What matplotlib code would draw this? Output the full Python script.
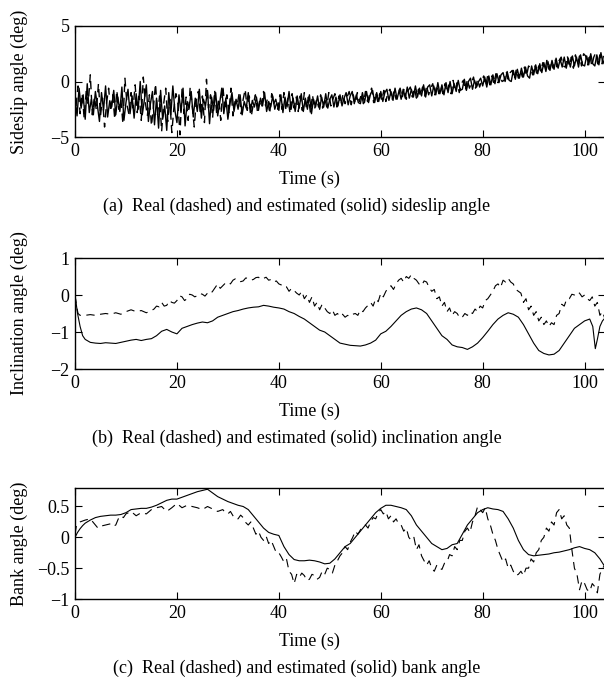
import numpy as np
import matplotlib
matplotlib.use("Agg")
import matplotlib.pyplot as plt

plt.rcParams['font.family'] = ['Liberation Serif', 'DejaVu Serif']
plt.rcParams['lines.scale_dashes'] = False

# ---- sideslip angle (deg), sampled every 0.4 s ----
sideslip_est = [
    -1.5, -3.1, -0.6, -2.4, -1.2, -3.4, -0.2, -2.8, -1.6, -3.0,
    -0.9, -2.2, -3.6, -1.0, -2.6, -0.4, -3.2, -1.8, -2.3, -0.8,
    -3.0, -1.4, -2.7, -0.5, -3.5, -1.9, -0.7, -2.9, -1.3, -3.3,
    -1.1, -2.5, 0.0, -3.0, -1.7, -0.3, -3.6, -2.0, -0.9, -3.9,
    -1.5, -4.2, -0.8, -3.4, -2.2, -4.4, -1.0, -3.0, -0.4, -2.6,
    -3.7, -1.2, -2.8, -0.6, -4.0, -1.8, -2.4, -0.9, -3.2, -1.5,
    -2.7, -0.7, -3.3, -1.6, -2.2, -0.8, -3.8, -1.4, -2.6, -1.0,
    -3.1, -1.9, -0.6, -2.9, -1.5, -3.4, -2.0, -1.0, -2.7, -1.6,
    -2.5, -1.2, -3.0, -1.8, -2.4, -1.0, -2.8, -1.7, -2.3, -1.4,
    -2.6, -1.5, -2.2, -1.0, -2.7, -1.8, -2.3, -1.3, -2.5, -1.9,
    -2.6, -1.2, -2.8, -1.4, -2.3, -0.9, -2.5, -1.5, -2.7, -1.3,
    -2.4, -1.1, -2.7, -1.5, -2.5, -1.2, -2.9, -1.6, -2.3, -1.3,
    -2.5, -1.4, -2.3, -1.1, -2.4, -1.6, -1.2, -2.3, -1.4, -2.2,
    -1.2, -2.2, -1.5, -1.0, -2.1, -1.3, -0.9, -2.0, -1.2, -1.9,
    -2.0, -1.0, -1.9, -0.9, -1.9, -1.1, -0.8, -1.9, -1.0, -1.8,
    -0.9, -1.8, -1.0, -0.7, -1.7, -0.9, -1.7, -0.6, -1.6, -0.8,
    -1.6, -0.7, -1.5, -0.5, -1.5, -0.7, -1.4, -0.4, -1.4, -0.6,
    -1.3, -0.3, -1.4, -0.5, -0.3, -1.3, -0.4, -1.2, -0.1, -1.1,
    -0.3, -1.2, -0.1, -1.0, 0.0, -1.1, -0.2, -0.9, 0.1, -0.8,
    -0.7, 0.2, -0.8, 0.0, 0.3, -0.7, 0.1, -0.5, 0.0, 0.3,
    -0.4, 0.4, -0.5, 0.5, -0.3, 0.6, -0.2, 0.7, -0.1, 0.6,
    0.8, 0.0, 0.9, 0.1, 0.0, 1.0, 0.2, 1.1, 0.3, 1.2,
    0.4, 1.3, 0.5, 0.3, 1.4, 0.6, 1.5, 0.7, 1.6, 0.8,
    1.7, 0.9, 1.8, 1.0, 1.9, 1.1, 2.1, 1.2, 2.0, 1.3,
    2.2, 1.2, 2.1, 1.3, 2.3, 1.4, 2.2, 1.3, 2.4, 1.5,
    1.4, 2.3, 1.5, 2.5, 1.6, 1.4, 2.4, 1.5, 2.6, 1.6,
    2.1,
]
sideslip_real = [
    -2.2, -0.4, -2.9, -1.1, -3.3, -0.9, -2.0, 0.6, -3.0, -1.4,
    -2.6, -0.2, -3.1, -1.5, -4.1, -1.9, -0.6, -2.7, -1.2, -3.4,
    -0.8, -2.5, -1.6, -3.8, 0.3, -2.1, -3.0, -1.0, -2.4, -0.3,
    -2.8, -1.3, -3.5, 0.4, -1.9, -3.1, -1.2, -4.0, -2.3, -0.2,
    -3.0, -1.3, -4.5, -2.0, -0.6, -3.6, -1.6, -4.6, -2.4, -1.1,
    -2.0, -4.8, -0.7, -2.9, -1.4, -3.5, -0.5, -2.2, -4.1, -1.7,
    -0.9, -3.0, -1.3, -3.7, 0.2, -2.4, -1.2, -3.3, -0.8, -2.9,
    -1.5, -3.5, -0.4, -2.3, -1.2, -2.8, -0.6, -3.1, -1.8, -2.2,
    -1.1, -2.9, -1.6, -0.7, -2.6, -1.3, -3.1, -2.0, -1.2, -2.7,
    -1.8, -2.4, -0.9, -2.2, -1.5, -2.9, -1.1, -2.0, -1.6, -2.5,
    -1.2, -2.5, -1.0, -2.6, -1.5, -2.9, -1.1, -2.4, -1.4, -2.7,
    -1.3, -2.6, -1.0, -2.4, -1.4, -2.8, -1.2, -2.5, -1.6, -2.3,
    -1.2, -2.4, -1.5, -2.3, -1.0, -2.2, -1.6, -1.1, -2.3, -1.3,
    -2.1, -1.1, -2.0, -1.4, -0.9, -2.1, -1.2, -2.0, -1.0, -1.8,
    -1.1, -2.0, -0.9, -1.8, -1.2, -0.6, -1.9, -1.0, -1.8, -1.1,
    -1.7, -0.8, -1.8, -1.0, -0.7, -1.7, -0.8, -1.6, -1.0, -0.6,
    -1.5, -0.6, -1.6, -0.8, -0.5, -1.4, -0.6, -1.5, -0.7, -1.3,
    -0.5, -1.3, -0.4, -1.2, -0.6, -0.2, -1.2, -0.3, -1.1, -0.5,
    -1.1, -0.2, -1.0, -0.3, -1.1, 0.1, -0.9, -0.1, -1.0, -0.2,
    0.1, -0.8, 0.2, -0.6, -0.1, 0.4, -0.6, 0.2, -0.5, 0.1,
    0.5, -0.4, 0.6, -0.3, 0.5, -0.2, 0.7, -0.1, 0.6, 0.0,
    0.1, 0.9, 0.2, 0.8, 1.0, 0.2, 1.1, 0.3, 1.0, 0.4,
    1.3, 0.5, 1.4, 1.2, 0.6, 1.5, 0.7, 1.4, 0.9, 1.7,
    1.0, 1.9, 1.1, 1.8, 1.2, 2.0, 1.3, 1.9, 2.2, 1.4,
    1.3, 2.3, 1.4, 2.2, 1.2, 2.4, 1.5, 2.3, 1.4, 2.5,
    2.3, 1.5, 2.5, 1.4, 2.2, 2.6, 1.5, 2.4, 1.6, 2.6,
    1.9,
]
# real samples sit half a step after the estimated ones
t_sideslip_est = np.linspace(0, 104, len(sideslip_est))
t_sideslip_real = np.linspace(0.2, 104.2, len(sideslip_real))

# ---- inclination angle (deg): (time s, value) ----
incl_est = [
    (0, 0.0), (0.5, -0.5), (1, -0.85), (1.5, -1.1), (2, -1.2), (3, -1.28),
    (4, -1.3), (5, -1.31), (6, -1.29), (7, -1.3), (8, -1.31), (9, -1.28),
    (10, -1.25), (11, -1.22), (12, -1.2), (13, -1.23), (14, -1.2), (15, -1.18),
    (16, -1.1), (17, -0.98), (18, -0.93), (19, -1.0), (20, -1.05), (21, -0.9),
    (22, -0.85), (23, -0.8), (24, -0.76), (25, -0.73), (26, -0.75), (27, -0.7),
    (28, -0.6), (29, -0.55), (30, -0.5), (31, -0.45), (32, -0.42), (33, -0.38),
    (34, -0.35), (35, -0.33), (36, -0.32), (37, -0.28), (38, -0.3), (39, -0.33),
    (40, -0.35), (41, -0.38), (42, -0.45), (43, -0.5), (44, -0.58), (45, -0.65),
    (46, -0.75), (47, -0.85), (48, -0.95), (49, -1.0), (50, -1.1), (51, -1.2),
    (52, -1.3), (53, -1.33), (54, -1.36), (55, -1.37), (56, -1.38), (57, -1.35),
    (58, -1.3), (59, -1.22), (60, -1.05), (61, -0.98), (62, -0.85), (63, -0.7),
    (64, -0.55), (65, -0.45), (66, -0.38), (67, -0.35), (68, -0.4), (69, -0.5),
    (70, -0.7), (71, -0.9), (72, -1.1), (73, -1.2), (74, -1.35), (75, -1.4),
    (76, -1.42), (77, -1.47), (78, -1.4), (79, -1.3), (80, -1.15), (81, -0.98),
    (82, -0.8), (83, -0.65), (84, -0.55), (85, -0.48), (86, -0.52), (87, -0.6),
    (88, -0.8), (89, -1.05), (90, -1.3), (91, -1.5), (92, -1.58), (93, -1.62),
    (94, -1.6), (95, -1.5), (96, -1.3), (97, -1.1), (98, -0.9), (99, -0.8),
    (100, -0.7), (101, -0.65), (101.6, -0.85), (102.1, -1.45), (102.5, -1.2),
    (103, -0.85), (103.5, -0.7), (104, -0.62),
]
incl_real = [
    (0, 0.0), (0.3, -0.3), (0.6, -0.5), (1, -0.55), (2, -0.55), (3, -0.53),
    (4, -0.55), (5, -0.52), (6, -0.5), (7, -0.52), (8, -0.48), (9, -0.52),
    (10, -0.45), (11, -0.4), (12, -0.45), (13, -0.42), (14, -0.48), (15, -0.42),
    (15.5, -0.38), (16, -0.3), (16.5, -0.32), (17, -0.2), (17.5, -0.3),
    (18, -0.28), (18.5, -0.15), (19, -0.2), (19.5, -0.22), (20, -0.15),
    (20.5, -0.02), (21, -0.05), (21.5, -0.15), (22, -0.1), (22.5, 0.02),
    (23, 0.0), (23.5, -0.05), (24, -0.02), (24.5, 0.04), (25, 0.02),
    (25.5, -0.03), (26, 0.05), (26.5, 0.02), (27, 0.1), (27.5, 0.2), (28, 0.3),
    (28.5, 0.18), (29, 0.25), (29.5, 0.32), (30, 0.35), (30.5, 0.3), (31, 0.4),
    (31.5, 0.44), (32, 0.42), (32.5, 0.36), (33, 0.38), (33.5, 0.46),
    (34, 0.45), (34.5, 0.4), (35, 0.42), (35.5, 0.47), (36, 0.48), (36.5, 0.42),
    (37, 0.45), (37.5, 0.48), (38, 0.4), (38.5, 0.42), (39, 0.35), (39.5, 0.38),
    (40, 0.3), (40.5, 0.27), (41, 0.2), (41.5, 0.22), (42, 0.1), (42.5, 0.18),
    (43, 0.12), (43.5, 0.05), (44, 0.0), (44.5, 0.1), (45, -0.1), (45.5, 0.0),
    (46, -0.2), (46.5, -0.05), (47, -0.3), (47.5, -0.2), (48, -0.4),
    (48.5, -0.25), (49, -0.35), (49.5, -0.45), (50, -0.5), (50.5, -0.4),
    (51, -0.55), (51.5, -0.5), (52, -0.58), (52.5, -0.52), (53, -0.6),
    (53.5, -0.55), (54, -0.58), (54.5, -0.52), (55, -0.5), (55.5, -0.55),
    (56, -0.4), (56.5, -0.45), (57, -0.35), (57.5, -0.28), (58, -0.2),
    (58.5, -0.3), (59, -0.1), (59.5, -0.18), (60, 0.05), (60.5, -0.05),
    (61, 0.1), (61.5, 0.2), (62, 0.25), (62.5, 0.15), (63, 0.3), (63.5, 0.4),
    (64, 0.45), (64.5, 0.35), (65, 0.5), (65.5, 0.45), (66, 0.55), (66.5, 0.45),
    (67, 0.4), (67.5, 0.3), (68, 0.25), (68.5, 0.38), (69, 0.35), (69.5, 0.2),
    (70, 0.1), (70.5, 0.15), (71, -0.1), (71.5, -0.05), (72, -0.3),
    (72.5, -0.2), (73, -0.45), (73.5, -0.35), (74, -0.55), (74.5, -0.45),
    (75, -0.5), (75.5, -0.62), (76, -0.6), (76.5, -0.5), (77, -0.55),
    (77.5, -0.45), (78, -0.5), (78.5, -0.38), (79, -0.45), (79.5, -0.3),
    (80, -0.35), (80.5, -0.15), (81, -0.1), (81.5, 0.0), (82, 0.1),
    (82.5, 0.25), (83, 0.3), (83.5, 0.2), (84, 0.4), (84.5, 0.35), (85, 0.45),
    (85.5, 0.35), (86, 0.3), (86.5, 0.15), (87, 0.1), (87.5, 0.05), (88, -0.2),
    (88.5, -0.1), (89, -0.4), (89.5, -0.3), (90, -0.55), (90.5, -0.45),
    (91, -0.7), (91.5, -0.6), (92, -0.8), (92.5, -0.7), (93, -0.85),
    (93.5, -0.75), (94, -0.8), (94.5, -0.55), (95, -0.5), (95.5, -0.25),
    (96, -0.3), (96.5, -0.1), (97, -0.1), (97.5, 0.02), (98, 0.0), (98.5, 0.08),
    (99, 0.05), (99.5, -0.05), (100, 0.0), (100.5, -0.1), (101, -0.15),
    (101.5, -0.05), (102, -0.3), (102.5, -0.2), (103, -0.55), (103.5, -0.45),
    (104, -0.65),
]

# ---- bank angle (deg): (time s, value) ----
bank_est = [
    (0, 0.0), (0.5, 0.08), (1, 0.14), (1.5, 0.19), (2, 0.23), (3, 0.28),
    (4, 0.32), (5, 0.34), (6, 0.35), (7, 0.36), (8, 0.36), (9, 0.37),
    (10, 0.4), (11, 0.45), (12, 0.46), (13, 0.47), (14, 0.47), (15, 0.49),
    (16, 0.52), (17, 0.56), (18, 0.6), (19, 0.62), (20, 0.62), (21, 0.65),
    (22, 0.68), (23, 0.71), (24, 0.74), (25, 0.76), (26, 0.78), (27, 0.72),
    (28, 0.66), (29, 0.62), (30, 0.58), (31, 0.55), (32, 0.52), (33, 0.5),
    (34, 0.45), (35, 0.35), (36, 0.25), (37, 0.15), (38, 0.08), (39, 0.05),
    (40, 0.03), (41, -0.15), (42, -0.28), (43, -0.36), (44, -0.38), (45, -0.38),
    (46, -0.37), (47, -0.38), (48, -0.4), (49, -0.43), (50, -0.42), (51, -0.35),
    (52, -0.25), (53, -0.15), (54, -0.1), (55, 0.0), (56, 0.1), (57, 0.2),
    (58, 0.3), (59, 0.4), (60, 0.47), (61, 0.52), (62, 0.52), (63, 0.5),
    (64, 0.48), (65, 0.45), (66, 0.35), (67, 0.2), (68, 0.1), (69, 0.0),
    (70, -0.1), (71, -0.15), (72, -0.2), (73, -0.18), (74, -0.12), (75, -0.1),
    (76, 0.05), (77, 0.2), (78, 0.3), (79, 0.4), (80, 0.45), (81, 0.48),
    (82, 0.46), (83, 0.45), (84, 0.42), (85, 0.3), (86, 0.15), (87, -0.05),
    (88, -0.2), (89, -0.28), (90, -0.3), (91, -0.29), (92, -0.28), (93, -0.27),
    (94, -0.25), (95, -0.24), (96, -0.22), (97, -0.2), (98, -0.17), (99, -0.15),
    (100, -0.18), (101, -0.2), (102, -0.25), (103, -0.35), (104, -0.48),
]
bank_real = [
    (0, 0.05), (0.3, 0.2), (1, 0.25), (2, 0.28), (3, 0.3), (4, 0.2),
    (4.5, 0.15), (5, 0.18), (6, 0.2), (7, 0.22), (7.5, 0.18), (8, 0.2),
    (8.5, 0.3), (9, 0.35), (9.5, 0.32), (10, 0.38), (11, 0.42), (12, 0.35),
    (13, 0.4), (14, 0.38), (15, 0.45), (16, 0.48), (17, 0.5), (18, 0.42),
    (19, 0.48), (20, 0.55), (21, 0.48), (22, 0.52), (23, 0.5), (24, 0.48),
    (25, 0.45), (26, 0.5), (27, 0.46), (28, 0.42), (29, 0.45), (29.5, 0.4),
    (30, 0.38), (30.5, 0.42), (31, 0.35), (31.5, 0.3), (32, 0.3), (32.5, 0.36),
    (33, 0.32), (33.5, 0.24), (34, 0.2), (34.5, 0.25), (35, 0.15), (35.5, 0.05),
    (36, 0.1), (36.5, 0.0), (37, -0.05), (37.5, 0.02), (38, -0.1), (38.5, -0.05),
    (39, -0.15), (39.5, -0.25), (40, -0.25), (40.5, -0.32), (41, -0.4),
    (41.5, -0.35), (42, -0.55), (42.5, -0.6), (43, -0.75), (43.5, -0.6),
    (44, -0.65), (44.5, -0.58), (45, -0.62), (45.5, -0.7), (46, -0.68),
    (46.5, -0.6), (47, -0.62), (47.5, -0.68), (48, -0.65), (48.5, -0.55),
    (49, -0.6), (49.5, -0.5), (50, -0.52), (50.5, -0.58), (51, -0.45),
    (51.5, -0.38), (52, -0.3), (52.5, -0.25), (53, -0.15), (53.5, -0.2),
    (54, -0.08), (54.5, 0.0), (55, 0.1), (55.5, 0.05), (56, 0.12), (56.5, 0.18),
    (57, 0.2), (57.5, 0.15), (58, 0.25), (58.5, 0.32), (59, 0.3), (59.5, 0.4),
    (60, 0.45), (60.5, 0.38), (61, 0.42), (61.5, 0.3), (62, 0.35), (62.5, 0.25),
    (63, 0.3), (63.5, 0.22), (64, 0.2), (64.5, 0.1), (65, 0.15), (65.5, 0.0),
    (66, -0.05), (66.5, 0.0), (67, -0.2), (67.5, -0.12), (68, -0.3),
    (68.5, -0.38), (69, -0.45), (69.5, -0.38), (70, -0.5), (70.5, -0.55),
    (71, -0.45), (71.5, -0.5), (72, -0.52), (72.5, -0.42), (73, -0.4),
    (73.5, -0.28), (74, -0.3), (74.5, -0.15), (75, -0.2), (75.5, -0.05),
    (76, -0.05), (76.5, 0.1), (77, 0.15), (77.5, 0.08), (78, 0.25),
    (78.5, 0.35), (79, 0.5), (79.5, 0.45), (80, 0.4), (80.5, 0.48), (81, 0.3),
    (81.5, 0.2), (82, 0.05), (82.5, -0.05), (83, -0.2), (83.5, -0.3),
    (84, -0.4), (84.5, -0.35), (85, -0.5), (85.5, -0.45), (86, -0.55),
    (86.5, -0.62), (87, -0.6), (87.5, -0.55), (88, -0.62), (88.5, -0.5),
    (89, -0.5), (89.5, -0.35), (90, -0.4), (90.5, -0.25), (91, -0.2),
    (91.5, -0.05), (92, 0.0), (92.5, 0.15), (93, 0.1), (93.5, 0.25), (94, 0.2),
    (94.5, 0.4), (95, 0.45), (95.5, 0.3), (96, 0.35), (96.5, 0.2), (97, 0.15),
    (97.5, -0.2), (98, -0.5), (98.5, -0.6), (99, -0.85), (99.5, -0.7),
    (100, -0.75), (100.5, -0.85), (101, -0.88), (101.5, -0.75), (102, -0.8),
    (102.5, -0.9), (103, -0.6), (103.5, -0.5), (104, -0.45),
]

ylabels = ['Sideslip angle (deg)', 'Inclination angle (deg)', 'Bank angle (deg)']
captions = ['(a)  Real (dashed) and estimated (solid) sideslip angle',
            '(b)  Real (dashed) and estimated (solid) inclination angle',
            '(c)  Real (dashed) and estimated (solid) bank angle']
ylims = [(-5, 5), (-2, 1), (-1, 0.8)]
yticks = [[-5, 0, 5], [-2, -1, 0, 1], [-1, -0.5, 0, 0.5]]
xticks = [0, 20, 40, 60, 80, 100]
line_widths = [1.0, 0.8, 0.8]

real_series = [(t_sideslip_real, sideslip_real),
               tuple(np.array(incl_real).T), tuple(np.array(bank_real).T)]
est_series = [(t_sideslip_est, sideslip_est),
              tuple(np.array(incl_est).T), tuple(np.array(bank_est).T)]

W, H = 604.0, 683.0
fig = plt.figure(figsize=(W / 100, H / 100), dpi=100)
tops = [26, 258, 488]
for i in range(3):
    top = tops[i]
    ax = fig.add_axes([75 / W, 1 - (top + 111) / H, 530 / W, 111 / H])
    tr, yr = real_series[i]
    te, ye = est_series[i]
    ax.plot(tr, yr, color='k', lw=line_widths[i], linestyle=(0, (6, 4)))
    ax.plot(te, ye, color='k', lw=line_widths[i])
    ax.set_xlim(0, 104)
    ax.set_ylim(*ylims[i])
    ax.set_xticks(xticks)
    ax.set_yticks(yticks[i])
    ax.set_yticklabels([('%g' % v).replace('-', '\u2212') for v in yticks[i]])
    ax.tick_params(direction='in', top=True, right=True, length=5,
                   width=0.8, labelsize=13, pad=4)
    for s in ax.spines.values():
        s.set_linewidth(1.0)
    ax.set_xlabel('Time (s)', fontsize=13)
    ax.xaxis.set_label_coords((309 - 75) / 530, -0.3)
    ax.set_ylabel(ylabels[i], fontsize=13)
    ax.yaxis.set_label_coords(-0.089, 0.5)
    fig.text(297 / W, 1 - (top + 180) / H, captions[i], ha='center',
             va='center', fontsize=13)

fig.savefig('out.png', dpi=100)
